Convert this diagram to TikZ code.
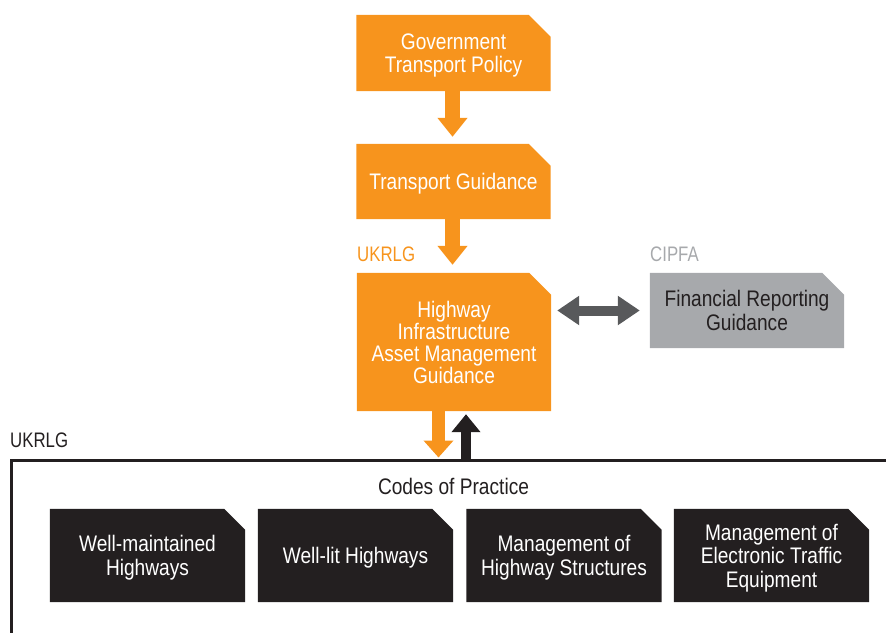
\documentclass[tikz,border=0pt]{standalone}
\usepackage{fontspec}
\setmainfont{Liberation Sans}[FakeStretch=0.85]
\newfontfamily\lblfont{Liberation Sans}[FakeStretch=0.8]
\usetikzlibrary{arrows.meta,backgrounds}
\definecolor{ukorange}{HTML}{F7941D}
\definecolor{ukgrey}{HTML}{A7A9AC}
\definecolor{ukdark}{HTML}{231F20}
\definecolor{arrgrey}{HTML}{58595B}
\tikzset{
  box/.style={minimum width=194pt, inner sep=0pt, align=center, text depth=0pt, font=\fontsize{22.5}{23.5}\selectfont},
  obox/.style={box, text=white},
  gbox/.style={box, text=ukdark},
  dbox/.style={box, minimum width=195pt, minimum height=93pt, text=white},
  lbl/.style={anchor=west, inner sep=0pt, font=\lblfont\fontsize{21}{24}\selectfont},
  oarrow/.style={ukorange, line width=15pt, -{Triangle[width=29pt,length=19pt]}},
  oarrowb/.style={ukorange, line width=13pt, -{Triangle[width=29pt,length=17pt]}},
  darrow/.style={ukdark, line width=10pt, -{Triangle[width=28pt,length=18pt]}},
  garrow/.style={arrgrey, line width=10pt, {Triangle[width=28pt,length=22pt]}-{Triangle[width=28pt,length=22pt]}},
}
\newcommand\cutfill[3]{\fill[#2] (#1.south west) -- (#1.north west) -- ([xshift=-#3]#1.north east) -- ([yshift=-#3]#1.north east) -- (#1.south east) -- cycle;}
\begin{document}
\begin{tikzpicture}[x=1pt,y=-1pt]
\useasboundingbox (0,0) rectangle (886,632);
% orange chain
\node[obox, minimum height=76pt] (gov) at (453.5,53) {Government\\Transport Policy};
\node[obox, minimum height=75pt] (tg) at (453.5,181.5) {Transport Guidance};
\node[obox, minimum height=138pt, font=\fontsize{22.5}{22}\selectfont] (ham) at (454,342) {Highway\\Infrastructure\\Asset Management\\Guidance};
\node[gbox, minimum height=75pt] (fin) at (747,310.5) {Financial Reporting\\Guidance};
\node[lbl, text=ukorange] (ukrlg1) at (357,254.5) {UKRLG};
\node[lbl, text=ukgrey] (cipfa) at (650,254) {CIPFA};
\node[lbl, text=ukdark] (ukrlg2) at (10,440) {UKRLG};
% frame
\coordinate (ftl) at (11,460.5);
\draw[line width=3pt, ukdark] (892,460.5) -- (ftl) -- (11,640);
\node[anchor=base, inner sep=0pt, font=\fontsize{22.5}{24}\selectfont, text=ukdark] (cop) at (453.5,494) {Codes of Practice};
% black boxes
\node[dbox] (wm) at (147.5,555.5) {Well-maintained\\Highways};
\node[dbox] (wl) at (355.5,555.5) {Well-lit Highways};
\node[dbox] (hs) at (564,555.5) {Management of\\Highway Structures};
\node[dbox] (et) at (771.5,555.5) {Management of\\Electronic Traffic\\Equipment};
\begin{pgfonlayer}{background}
\cutfill{gov}{ukorange}{22pt}
\cutfill{tg}{ukorange}{22pt}
\cutfill{ham}{ukorange}{22pt}
\cutfill{fin}{ukgrey}{22pt}
\cutfill{wm}{ukdark}{21pt}
\cutfill{wl}{ukdark}{21pt}
\cutfill{hs}{ukdark}{21pt}
\cutfill{et}{ukdark}{21pt}
\end{pgfonlayer}
% arrows
\draw[oarrow, shorten >=7pt] ([xshift=-1pt]gov.south) -- ([xshift=-1pt]tg.north);
\draw[oarrow, shorten >=8pt] ([xshift=-1pt]tg.south) -- ([xshift=-1.5pt]ham.north);
\draw[garrow, shorten <=6pt, shorten >=10pt] (ham.east |- fin.west) -- (fin.west);
\draw[oarrowb, shorten >=3pt] ([xshift=-15.5pt]ham.south) -- ([xshift=-15.5pt]ham.south |- ftl);
\draw[darrow, shorten >=3pt] ([xshift=12pt]ham.south |- ftl) -- ([xshift=12pt]ham.south);
\end{tikzpicture}
\end{document}
